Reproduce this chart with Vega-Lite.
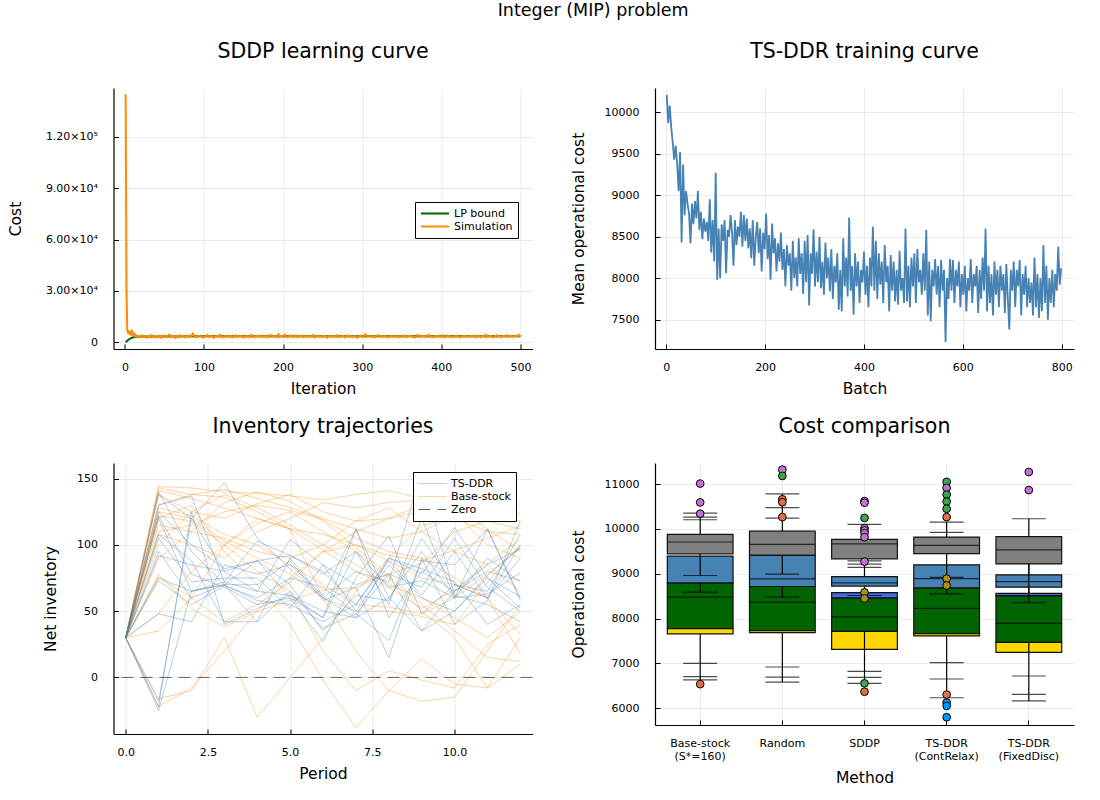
{
"$schema": "https://vega.github.io/schema/vega-lite/v6.json",
"background": "white",
"padding": {"left": 7.5, "top": 2, "right": 5, "bottom": 5},
"title": {"text": "Integer (MIP) problem", "fontSize": 17.5, "anchor": "middle", "offset": 22, "dx": 52},
"config": {
 "font": "DejaVu Sans",
 "view": {"stroke": null},
 "title": {"fontSize": 20.5, "fontWeight": "normal", "color": "#000", "offset": 26},
 "axis": {"domainColor": "#000", "domainWidth": 1.2, "tickColor": "#000", "tickWidth": 1, "tickSize": -5, "labelFontSize": 11, "labelColor": "#000", "titleFontSize": 15.5, "titleFontWeight": "normal", "titleColor": "#000", "gridColor": "#e6e6e6", "gridWidth": 0.8, "labelFlush": false},
 "axisX": {"labelPadding": 17, "titlePadding": 9, "labelAngle": 0},
 "axisY": {"labelPadding": 21, "titlePadding": 18},
 "legend": {"strokeColor": "#000", "fillColor": "#fff", "padding": 5, "symbolType": "stroke", "symbolSize": 784, "clipHeight": 13, "symbolStrokeWidth": 2, "labelOffset": 4, "rowPadding": 0, "labelFontSize": 11, "labelColor": "#000", "cornerRadius": 0}
},
"datasets": {
 "sddp": [
  {"s":"LP bound","i":1,"c":0},{"s":"LP bound","i":2,"c":450},{"s":"LP bound","i":3,"c":900},{"s":"LP bound","i":4,"c":1300},{"s":"LP bound","i":5,"c":1650},{"s":"LP bound","i":6,"c":1950},{"s":"LP bound","i":7,"c":2250},{"s":"LP bound","i":8,"c":2500},{"s":"LP bound","i":10,"c":2800},{"s":"LP bound","i":12,"c":3050},{"s":"LP bound","i":15,"c":3250},{"s":"LP bound","i":20,"c":3380},{"s":"LP bound","i":30,"c":3440},{"s":"LP bound","i":50,"c":3470},{"s":"LP bound","i":100,"c":3490},{"s":"LP bound","i":200,"c":3500},{"s":"LP bound","i":300,"c":3505},{"s":"LP bound","i":400,"c":3510},{"s":"LP bound","i":500,"c":3512},
  {"s":"Simulation","i":1,"c":145000},{"s":"Simulation","i":2,"c":32000},{"s":"Simulation","i":3,"c":7200},{"s":"Simulation","i":4,"c":5400},{"s":"Simulation","i":5,"c":6600},{"s":"Simulation","i":6,"c":4700},{"s":"Simulation","i":7,"c":5900},{"s":"Simulation","i":8,"c":4300},{"s":"Simulation","i":9,"c":7000},{"s":"Simulation","i":10,"c":4400},{"s":"Simulation","i":11,"c":5400},{"s":"Simulation","i":12,"c":3700},{"s":"Simulation","i":13,"c":4900},
  {"s":"Simulation","i":14,"c":3300},{"s":"Simulation","i":16,"c":3900},{"s":"Simulation","i":18,"c":2900},{"s":"Simulation","i":20,"c":3600},{"s":"Simulation","i":22,"c":4100},{"s":"Simulation","i":24,"c":3000},{"s":"Simulation","i":26,"c":3500},{"s":"Simulation","i":28,"c":2700},{"s":"Simulation","i":30,"c":3800},{"s":"Simulation","i":32,"c":3200},
  {"s":"Simulation","i":34,"c":4400},{"s":"Simulation","i":36,"c":3100},{"s":"Simulation","i":38,"c":2800},{"s":"Simulation","i":40,"c":3600},{"s":"Simulation","i":42,"c":3300},{"s":"Simulation","i":44,"c":3900},{"s":"Simulation","i":46,"c":2600},{"s":"Simulation","i":48,"c":3500},{"s":"Simulation","i":50,"c":4000},{"s":"Simulation","i":52,"c":3100},
  {"s":"Simulation","i":54,"c":3400},{"s":"Simulation","i":56,"c":4700},{"s":"Simulation","i":58,"c":2900},{"s":"Simulation","i":60,"c":3300},{"s":"Simulation","i":62,"c":3700},{"s":"Simulation","i":64,"c":2500},{"s":"Simulation","i":66,"c":3600},{"s":"Simulation","i":68,"c":3000},{"s":"Simulation","i":70,"c":4200},{"s":"Simulation","i":72,"c":3300},
  {"s":"Simulation","i":74,"c":3800},{"s":"Simulation","i":76,"c":2800},{"s":"Simulation","i":78,"c":3500},{"s":"Simulation","i":80,"c":4100},{"s":"Simulation","i":82,"c":3000},{"s":"Simulation","i":84,"c":3600},{"s":"Simulation","i":86,"c":5300},{"s":"Simulation","i":88,"c":3200},{"s":"Simulation","i":90,"c":2900},{"s":"Simulation","i":92,"c":3700},
  {"s":"Simulation","i":94,"c":3400},{"s":"Simulation","i":96,"c":4000},{"s":"Simulation","i":98,"c":2700},{"s":"Simulation","i":100,"c":3500},{"s":"Simulation","i":102,"c":3100},{"s":"Simulation","i":104,"c":4300},{"s":"Simulation","i":106,"c":3000},{"s":"Simulation","i":108,"c":3600},{"s":"Simulation","i":110,"c":3900},{"s":"Simulation","i":112,"c":2600},
  {"s":"Simulation","i":114,"c":3300},{"s":"Simulation","i":116,"c":3800},{"s":"Simulation","i":118,"c":3100},{"s":"Simulation","i":120,"c":4500},{"s":"Simulation","i":122,"c":3200},{"s":"Simulation","i":124,"c":2900},{"s":"Simulation","i":126,"c":3600},{"s":"Simulation","i":128,"c":3400},{"s":"Simulation","i":130,"c":4000},{"s":"Simulation","i":132,"c":3000},
  {"s":"Simulation","i":134,"c":3700},{"s":"Simulation","i":136,"c":2800},{"s":"Simulation","i":138,"c":3500},{"s":"Simulation","i":140,"c":4200},{"s":"Simulation","i":142,"c":3100},{"s":"Simulation","i":144,"c":3600},{"s":"Simulation","i":146,"c":3300},{"s":"Simulation","i":148,"c":3900},{"s":"Simulation","i":150,"c":2700},{"s":"Simulation","i":152,"c":3400},
  {"s":"Simulation","i":154,"c":3800},{"s":"Simulation","i":156,"c":3000},{"s":"Simulation","i":158,"c":3500},{"s":"Simulation","i":160,"c":4600},{"s":"Simulation","i":162,"c":3200},{"s":"Simulation","i":164,"c":2900},{"s":"Simulation","i":166,"c":3700},{"s":"Simulation","i":168,"c":3300},{"s":"Simulation","i":170,"c":4100},{"s":"Simulation","i":172,"c":3000},
  {"s":"Simulation","i":174,"c":3600},{"s":"Simulation","i":176,"c":3200},{"s":"Simulation","i":178,"c":3900},{"s":"Simulation","i":180,"c":2800},{"s":"Simulation","i":182,"c":3500},{"s":"Simulation","i":184,"c":4400},{"s":"Simulation","i":186,"c":3100},{"s":"Simulation","i":188,"c":3700},{"s":"Simulation","i":190,"c":3400},{"s":"Simulation","i":192,"c":3000},
  {"s":"Simulation","i":194,"c":4900},{"s":"Simulation","i":196,"c":3300},{"s":"Simulation","i":198,"c":3800},{"s":"Simulation","i":200,"c":3100},{"s":"Simulation","i":202,"c":4600},{"s":"Simulation","i":204,"c":3500},{"s":"Simulation","i":206,"c":2900},{"s":"Simulation","i":208,"c":3600},{"s":"Simulation","i":210,"c":4200},{"s":"Simulation","i":212,"c":3200},
  {"s":"Simulation","i":214,"c":3400},{"s":"Simulation","i":216,"c":3900},{"s":"Simulation","i":218,"c":3000},{"s":"Simulation","i":220,"c":3700},{"s":"Simulation","i":222,"c":3300},{"s":"Simulation","i":224,"c":4100},{"s":"Simulation","i":226,"c":2800},{"s":"Simulation","i":228,"c":3500},{"s":"Simulation","i":230,"c":3900},{"s":"Simulation","i":232,"c":3100},
  {"s":"Simulation","i":234,"c":3600},{"s":"Simulation","i":236,"c":3300},{"s":"Simulation","i":238,"c":4400},{"s":"Simulation","i":240,"c":2900},{"s":"Simulation","i":242,"c":3500},{"s":"Simulation","i":244,"c":3800},{"s":"Simulation","i":246,"c":3200},{"s":"Simulation","i":248,"c":3600},{"s":"Simulation","i":250,"c":3000},{"s":"Simulation","i":252,"c":4000},
  {"s":"Simulation","i":254,"c":3400},{"s":"Simulation","i":256,"c":2700},{"s":"Simulation","i":258,"c":3700},{"s":"Simulation","i":260,"c":3300},{"s":"Simulation","i":262,"c":3900},{"s":"Simulation","i":264,"c":3100},{"s":"Simulation","i":266,"c":3500},{"s":"Simulation","i":268,"c":4300},{"s":"Simulation","i":270,"c":3000},{"s":"Simulation","i":272,"c":3600},
  {"s":"Simulation","i":274,"c":3200},{"s":"Simulation","i":276,"c":3800},{"s":"Simulation","i":278,"c":2900},{"s":"Simulation","i":280,"c":3500},{"s":"Simulation","i":282,"c":4100},{"s":"Simulation","i":284,"c":3300},{"s":"Simulation","i":286,"c":3600},{"s":"Simulation","i":288,"c":3000},{"s":"Simulation","i":290,"c":3700},{"s":"Simulation","i":292,"c":3400},
  {"s":"Simulation","i":294,"c":2600},{"s":"Simulation","i":296,"c":3500},{"s":"Simulation","i":298,"c":3900},{"s":"Simulation","i":300,"c":3100},{"s":"Simulation","i":302,"c":3600},{"s":"Simulation","i":304,"c":4800},{"s":"Simulation","i":306,"c":3200},{"s":"Simulation","i":308,"c":3400},{"s":"Simulation","i":310,"c":3800},{"s":"Simulation","i":312,"c":3000},
  {"s":"Simulation","i":314,"c":3500},{"s":"Simulation","i":316,"c":2900},{"s":"Simulation","i":318,"c":3700},{"s":"Simulation","i":320,"c":4200},{"s":"Simulation","i":322,"c":3300},{"s":"Simulation","i":324,"c":3600},{"s":"Simulation","i":326,"c":3100},{"s":"Simulation","i":328,"c":3900},{"s":"Simulation","i":330,"c":3400},{"s":"Simulation","i":332,"c":2800},
  {"s":"Simulation","i":334,"c":3600},{"s":"Simulation","i":336,"c":3300},{"s":"Simulation","i":338,"c":4000},{"s":"Simulation","i":340,"c":3100},{"s":"Simulation","i":342,"c":3500},{"s":"Simulation","i":344,"c":3800},{"s":"Simulation","i":346,"c":2900},{"s":"Simulation","i":348,"c":3600},{"s":"Simulation","i":350,"c":3200},{"s":"Simulation","i":352,"c":4100},
  {"s":"Simulation","i":354,"c":3400},{"s":"Simulation","i":356,"c":3000},{"s":"Simulation","i":358,"c":3700},{"s":"Simulation","i":360,"c":3500},{"s":"Simulation","i":362,"c":3900},{"s":"Simulation","i":364,"c":3200},{"s":"Simulation","i":366,"c":2700},{"s":"Simulation","i":368,"c":3600},{"s":"Simulation","i":370,"c":4400},{"s":"Simulation","i":372,"c":3100},
  {"s":"Simulation","i":374,"c":3500},{"s":"Simulation","i":376,"c":3300},{"s":"Simulation","i":378,"c":3800},{"s":"Simulation","i":380,"c":3000},{"s":"Simulation","i":382,"c":3600},{"s":"Simulation","i":384,"c":4500},{"s":"Simulation","i":386,"c":3200},{"s":"Simulation","i":388,"c":3400},{"s":"Simulation","i":390,"c":2800},{"s":"Simulation","i":392,"c":3700},
  {"s":"Simulation","i":394,"c":3300},{"s":"Simulation","i":396,"c":3900},{"s":"Simulation","i":398,"c":3100},{"s":"Simulation","i":400,"c":3500},{"s":"Simulation","i":402,"c":4200},{"s":"Simulation","i":404,"c":2900},{"s":"Simulation","i":406,"c":3600},{"s":"Simulation","i":408,"c":3400},{"s":"Simulation","i":410,"c":3800},{"s":"Simulation","i":412,"c":3100},
  {"s":"Simulation","i":414,"c":3500},{"s":"Simulation","i":416,"c":3000},{"s":"Simulation","i":418,"c":3700},{"s":"Simulation","i":420,"c":4000},{"s":"Simulation","i":422,"c":3300},{"s":"Simulation","i":424,"c":2800},{"s":"Simulation","i":426,"c":3600},{"s":"Simulation","i":428,"c":3400},{"s":"Simulation","i":430,"c":3900},{"s":"Simulation","i":432,"c":3200},
  {"s":"Simulation","i":434,"c":3500},{"s":"Simulation","i":436,"c":3100},{"s":"Simulation","i":438,"c":3800},{"s":"Simulation","i":440,"c":3300},{"s":"Simulation","i":442,"c":4100},{"s":"Simulation","i":444,"c":2900},{"s":"Simulation","i":446,"c":3600},{"s":"Simulation","i":448,"c":3400},{"s":"Simulation","i":450,"c":3000},{"s":"Simulation","i":452,"c":3700},
  {"s":"Simulation","i":454,"c":3400},{"s":"Simulation","i":456,"c":4600},{"s":"Simulation","i":458,"c":3100},{"s":"Simulation","i":460,"c":3500},{"s":"Simulation","i":462,"c":3800},{"s":"Simulation","i":464,"c":3200},{"s":"Simulation","i":466,"c":2900},{"s":"Simulation","i":468,"c":3600},{"s":"Simulation","i":470,"c":4200},{"s":"Simulation","i":472,"c":3300},
  {"s":"Simulation","i":474,"c":3500},{"s":"Simulation","i":476,"c":3000},{"s":"Simulation","i":478,"c":3700},{"s":"Simulation","i":480,"c":3400},{"s":"Simulation","i":482,"c":4300},{"s":"Simulation","i":484,"c":3100},{"s":"Simulation","i":486,"c":3600},{"s":"Simulation","i":488,"c":3900},{"s":"Simulation","i":490,"c":3200},{"s":"Simulation","i":492,"c":3500},
  {"s":"Simulation","i":494,"c":3800},{"s":"Simulation","i":496,"c":3300},{"s":"Simulation","i":498,"c":4500},{"s":"Simulation","i":500,"c":3600}
 ],
 "ts": [
  {"b":1,"c":10210},{"b":4,"c":9870},{"b":7,"c":10080},{"b":10,"c":9820},{"b":13,"c":9640},{"b":16,"c":9430},{"b":19,"c":9600},{"b":22,"c":9380},{"b":25,"c":9050},{"b":28,"c":9520},
  {"b":31,"c":8430},{"b":34,"c":9370},{"b":37,"c":8760},{"b":40,"c":9050},{"b":43,"c":8900},{"b":46,"c":8780},{"b":49,"c":8420},{"b":52,"c":8900},{"b":55,"c":8650},{"b":58,"c":8930},
  {"b":61,"c":8720},{"b":64,"c":9050},{"b":67,"c":8580},{"b":70,"c":8800},{"b":73,"c":8470},{"b":76,"c":8720},{"b":79,"c":8560},{"b":82,"c":8680},{"b":85,"c":8450},{"b":88,"c":8950},
  {"b":91,"c":8310},{"b":94,"c":8700},{"b":97,"c":8200},{"b":100,"c":9270},{"b":103,"c":7980},{"b":106,"c":8600},{"b":109,"c":8000},{"b":112,"c":8650},{"b":115,"c":8450},{"b":118,"c":8700},
  {"b":121,"c":8060},{"b":124,"c":8580},{"b":127,"c":8500},{"b":130,"c":8760},{"b":133,"c":8560},{"b":136,"c":8150},{"b":139,"c":8700},{"b":142,"c":8400},{"b":145,"c":8620},{"b":148,"c":8500},
  {"b":151,"c":8800},{"b":154,"c":8380},{"b":157,"c":8760},{"b":160,"c":8450},{"b":163,"c":8720},{"b":166,"c":8360},{"b":169,"c":8600},{"b":172,"c":8240},{"b":175,"c":8700},{"b":178,"c":8150},
  {"b":181,"c":8500},{"b":184,"c":8680},{"b":187,"c":8300},{"b":190,"c":8600},{"b":193,"c":8080},{"b":196,"c":8550},{"b":199,"c":8350},{"b":202,"c":8780},{"b":205,"c":8230},{"b":208,"c":8520},
  {"b":211,"c":7980},{"b":214,"c":8660},{"b":217,"c":8300},{"b":220,"c":8480},{"b":223,"c":8080},{"b":226,"c":8420},{"b":229,"c":8200},{"b":232,"c":8550},{"b":235,"c":8100},{"b":238,"c":8350},
  {"b":241,"c":7900},{"b":244,"c":8400},{"b":247,"c":8150},{"b":250,"c":8300},{"b":253,"c":7850},{"b":256,"c":8450},{"b":259,"c":8000},{"b":262,"c":8250},{"b":265,"c":7900},{"b":268,"c":8480},
  {"b":271,"c":8050},{"b":274,"c":8300},{"b":277,"c":7810},{"b":280,"c":8450},{"b":283,"c":7950},{"b":286,"c":8520},{"b":289,"c":7670},{"b":292,"c":8300},{"b":295,"c":8050},{"b":298,"c":8590},
  {"b":301,"c":7900},{"b":304,"c":8320},{"b":307,"c":7950},{"b":310,"c":8500},{"b":313,"c":7880},{"b":316,"c":8200},{"b":319,"c":7800},{"b":322,"c":8430},{"b":325,"c":8000},{"b":328,"c":8250},
  {"b":331,"c":7840},{"b":334,"c":8350},{"b":337,"c":7750},{"b":340,"c":8150},{"b":343,"c":7950},{"b":346,"c":8300},{"b":349,"c":7620},{"b":352,"c":8100},{"b":355,"c":7600},{"b":358,"c":8480},
  {"b":361,"c":7900},{"b":364,"c":8250},{"b":367,"c":7780},{"b":370,"c":8730},{"b":373,"c":7850},{"b":376,"c":8150},{"b":379,"c":7560},{"b":382,"c":8300},{"b":385,"c":7900},{"b":388,"c":8200},
  {"b":391,"c":7700},{"b":394,"c":8100},{"b":397,"c":7950},{"b":400,"c":8320},{"b":403,"c":7800},{"b":406,"c":8150},{"b":409,"c":7650},{"b":412,"c":8250},{"b":415,"c":7900},{"b":418,"c":8620},
  {"b":421,"c":7850},{"b":424,"c":8450},{"b":427,"c":7750},{"b":430,"c":8300},{"b":433,"c":7920},{"b":436,"c":8200},{"b":439,"c":7700},{"b":442,"c":8400},{"b":445,"c":7950},{"b":448,"c":8150},
  {"b":451,"c":7600},{"b":454,"c":8280},{"b":457,"c":7850},{"b":460,"c":8200},{"b":463,"c":7720},{"b":466,"c":8100},{"b":469,"c":7680},{"b":472,"c":8330},{"b":475,"c":7850},{"b":478,"c":8000},
  {"b":481,"c":7700},{"b":484,"c":8600},{"b":487,"c":7720},{"b":490,"c":8150},{"b":493,"c":7650},{"b":496,"c":8250},{"b":499,"c":7900},{"b":502,"c":8300},{"b":505,"c":7700},{"b":508,"c":8350},
  {"b":511,"c":7950},{"b":514,"c":8100},{"b":517,"c":7800},{"b":520,"c":8300},{"b":523,"c":7850},{"b":526,"c":8580},{"b":529,"c":7550},{"b":532,"c":8200},{"b":535,"c":7480},{"b":538,"c":8100},
  {"b":541,"c":7900},{"b":544,"c":8230},{"b":547,"c":7800},{"b":550,"c":8150},{"b":553,"c":7650},{"b":556,"c":8220},{"b":559,"c":7850},{"b":562,"c":8100},{"b":565,"c":7230},{"b":568,"c":8000},
  {"b":571,"c":7750},{"b":574,"c":8230},{"b":577,"c":7850},{"b":580,"c":8220},{"b":583,"c":7700},{"b":586,"c":8100},{"b":589,"c":7900},{"b":592,"c":8200},{"b":595,"c":7650},{"b":598,"c":8050},
  {"b":601,"c":7800},{"b":604,"c":8150},{"b":607,"c":7600},{"b":610,"c":8000},{"b":613,"c":7850},{"b":616,"c":8230},{"b":619,"c":7700},{"b":622,"c":8050},{"b":625,"c":7900},{"b":628,"c":8150},
  {"b":631,"c":7580},{"b":634,"c":8100},{"b":637,"c":7750},{"b":640,"c":8250},{"b":643,"c":7850},{"b":646,"c":8600},{"b":649,"c":7600},{"b":652,"c":8150},{"b":655,"c":7700},{"b":658,"c":8050},
  {"b":661,"c":7550},{"b":664,"c":8200},{"b":667,"c":7800},{"b":670,"c":8100},{"b":673,"c":7650},{"b":676,"c":8150},{"b":679,"c":7850},{"b":682,"c":8050},{"b":685,"c":7580},{"b":688,"c":8170},
  {"b":691,"c":7750},{"b":694,"c":7380},{"b":697,"c":8100},{"b":700,"c":7850},{"b":703,"c":8200},{"b":706,"c":7650},{"b":709,"c":8100},{"b":712,"c":7900},{"b":715,"c":8220},{"b":718,"c":7550},
  {"b":721,"c":8050},{"b":724,"c":7800},{"b":727,"c":8150},{"b":730,"c":7650},{"b":733,"c":8000},{"b":736,"c":7700},{"b":739,"c":7950},{"b":742,"c":7550},{"b":745,"c":8250},{"b":748,"c":7650},
  {"b":751,"c":8050},{"b":754,"c":7520},{"b":757,"c":8000},{"b":760,"c":7600},{"b":763,"c":8400},{"b":766,"c":7700},{"b":769,"c":8150},{"b":772,"c":7500},{"b":775,"c":8000},{"b":778,"c":7700},
  {"b":781,"c":8100},{"b":784,"c":7650},{"b":787,"c":8050},{"b":790,"c":7850},{"b":793,"c":8380},{"b":796,"c":7920},{"b":799,"c":8120}
 ],
 "inv": [
  {"id":"B1","s":"Base-stock","p":0,"v":30},{"id":"B1","s":"Base-stock","p":1,"v":144},{"id":"B1","s":"Base-stock","p":2,"v":143},{"id":"B1","s":"Base-stock","p":3,"v":140},{"id":"B1","s":"Base-stock","p":4,"v":139},{"id":"B1","s":"Base-stock","p":5,"v":137},{"id":"B1","s":"Base-stock","p":6,"v":134},{"id":"B1","s":"Base-stock","p":7,"v":138},{"id":"B1","s":"Base-stock","p":8,"v":141},{"id":"B1","s":"Base-stock","p":9,"v":135},{"id":"B1","s":"Base-stock","p":10,"v":128},{"id":"B1","s":"Base-stock","p":11,"v":125},{"id":"B1","s":"Base-stock","p":12,"v":118},
  {"id":"B2","s":"Base-stock","p":0,"v":30},{"id":"B2","s":"Base-stock","p":1,"v":143},{"id":"B2","s":"Base-stock","p":2,"v":138},{"id":"B2","s":"Base-stock","p":3,"v":142},{"id":"B2","s":"Base-stock","p":4,"v":135},{"id":"B2","s":"Base-stock","p":5,"v":128},{"id":"B2","s":"Base-stock","p":6,"v":120},{"id":"B2","s":"Base-stock","p":7,"v":112},{"id":"B2","s":"Base-stock","p":8,"v":105},{"id":"B2","s":"Base-stock","p":9,"v":110},{"id":"B2","s":"Base-stock","p":10,"v":122},{"id":"B2","s":"Base-stock","p":11,"v":128},{"id":"B2","s":"Base-stock","p":12,"v":131},
  {"id":"B3","s":"Base-stock","p":0,"v":30},{"id":"B3","s":"Base-stock","p":1,"v":141},{"id":"B3","s":"Base-stock","p":2,"v":135},{"id":"B3","s":"Base-stock","p":3,"v":128},{"id":"B3","s":"Base-stock","p":4,"v":120},{"id":"B3","s":"Base-stock","p":5,"v":112},{"id":"B3","s":"Base-stock","p":6,"v":108},{"id":"B3","s":"Base-stock","p":7,"v":100},{"id":"B3","s":"Base-stock","p":8,"v":92},{"id":"B3","s":"Base-stock","p":9,"v":88},{"id":"B3","s":"Base-stock","p":10,"v":96},{"id":"B3","s":"Base-stock","p":11,"v":105},{"id":"B3","s":"Base-stock","p":12,"v":114},
  {"id":"B4","s":"Base-stock","p":0,"v":30},{"id":"B4","s":"Base-stock","p":1,"v":138},{"id":"B4","s":"Base-stock","p":2,"v":125},{"id":"B4","s":"Base-stock","p":3,"v":120},{"id":"B4","s":"Base-stock","p":4,"v":131},{"id":"B4","s":"Base-stock","p":5,"v":138},{"id":"B4","s":"Base-stock","p":6,"v":125},{"id":"B4","s":"Base-stock","p":7,"v":118},{"id":"B4","s":"Base-stock","p":8,"v":120},{"id":"B4","s":"Base-stock","p":9,"v":130},{"id":"B4","s":"Base-stock","p":10,"v":125},{"id":"B4","s":"Base-stock","p":11,"v":118},{"id":"B4","s":"Base-stock","p":12,"v":112},
  {"id":"B5","s":"Base-stock","p":0,"v":30},{"id":"B5","s":"Base-stock","p":1,"v":128},{"id":"B5","s":"Base-stock","p":2,"v":122},{"id":"B5","s":"Base-stock","p":3,"v":108},{"id":"B5","s":"Base-stock","p":4,"v":100},{"id":"B5","s":"Base-stock","p":5,"v":85},{"id":"B5","s":"Base-stock","p":6,"v":70},{"id":"B5","s":"Base-stock","p":7,"v":55},{"id":"B5","s":"Base-stock","p":8,"v":53},{"id":"B5","s":"Base-stock","p":9,"v":48},{"id":"B5","s":"Base-stock","p":10,"v":60},{"id":"B5","s":"Base-stock","p":11,"v":78},{"id":"B5","s":"Base-stock","p":12,"v":98},
  {"id":"B6","s":"Base-stock","p":0,"v":30},{"id":"B6","s":"Base-stock","p":1,"v":125},{"id":"B6","s":"Base-stock","p":2,"v":120},{"id":"B6","s":"Base-stock","p":3,"v":103},{"id":"B6","s":"Base-stock","p":4,"v":90},{"id":"B6","s":"Base-stock","p":5,"v":78},{"id":"B6","s":"Base-stock","p":6,"v":60},{"id":"B6","s":"Base-stock","p":7,"v":50},{"id":"B6","s":"Base-stock","p":8,"v":50},{"id":"B6","s":"Base-stock","p":9,"v":46},{"id":"B6","s":"Base-stock","p":10,"v":40},{"id":"B6","s":"Base-stock","p":11,"v":72},{"id":"B6","s":"Base-stock","p":12,"v":100},
  {"id":"B7","s":"Base-stock","p":0,"v":30},{"id":"B7","s":"Base-stock","p":1,"v":122},{"id":"B7","s":"Base-stock","p":2,"v":118},{"id":"B7","s":"Base-stock","p":3,"v":100},{"id":"B7","s":"Base-stock","p":4,"v":80},{"id":"B7","s":"Base-stock","p":5,"v":65},{"id":"B7","s":"Base-stock","p":6,"v":20},{"id":"B7","s":"Base-stock","p":7,"v":-10},{"id":"B7","s":"Base-stock","p":8,"v":5},{"id":"B7","s":"Base-stock","p":9,"v":-2},{"id":"B7","s":"Base-stock","p":10,"v":-8},{"id":"B7","s":"Base-stock","p":11,"v":25},{"id":"B7","s":"Base-stock","p":12,"v":40},
  {"id":"B8","s":"Base-stock","p":0,"v":30},{"id":"B8","s":"Base-stock","p":1,"v":110},{"id":"B8","s":"Base-stock","p":2,"v":115},{"id":"B8","s":"Base-stock","p":3,"v":125},{"id":"B8","s":"Base-stock","p":4,"v":130},{"id":"B8","s":"Base-stock","p":5,"v":126},{"id":"B8","s":"Base-stock","p":6,"v":119},{"id":"B8","s":"Base-stock","p":7,"v":105},{"id":"B8","s":"Base-stock","p":8,"v":95},{"id":"B8","s":"Base-stock","p":9,"v":90},{"id":"B8","s":"Base-stock","p":10,"v":75},{"id":"B8","s":"Base-stock","p":11,"v":60},{"id":"B8","s":"Base-stock","p":12,"v":32},
  {"id":"B9","s":"Base-stock","p":0,"v":30},{"id":"B9","s":"Base-stock","p":1,"v":108},{"id":"B9","s":"Base-stock","p":2,"v":100},{"id":"B9","s":"Base-stock","p":3,"v":90},{"id":"B9","s":"Base-stock","p":4,"v":110},{"id":"B9","s":"Base-stock","p":5,"v":120},{"id":"B9","s":"Base-stock","p":6,"v":132},{"id":"B9","s":"Base-stock","p":7,"v":128},{"id":"B9","s":"Base-stock","p":8,"v":132},{"id":"B9","s":"Base-stock","p":9,"v":134},{"id":"B9","s":"Base-stock","p":10,"v":124},{"id":"B9","s":"Base-stock","p":11,"v":100},{"id":"B9","s":"Base-stock","p":12,"v":90},
  {"id":"B10","s":"Base-stock","p":0,"v":30},{"id":"B10","s":"Base-stock","p":1,"v":78},{"id":"B10","s":"Base-stock","p":2,"v":52},{"id":"B10","s":"Base-stock","p":3,"v":38},{"id":"B10","s":"Base-stock","p":4,"v":50},{"id":"B10","s":"Base-stock","p":5,"v":58},{"id":"B10","s":"Base-stock","p":6,"v":66},{"id":"B10","s":"Base-stock","p":7,"v":68},{"id":"B10","s":"Base-stock","p":8,"v":78},{"id":"B10","s":"Base-stock","p":9,"v":86},{"id":"B10","s":"Base-stock","p":10,"v":110},{"id":"B10","s":"Base-stock","p":11,"v":118},{"id":"B10","s":"Base-stock","p":12,"v":124},
  {"id":"B11","s":"Base-stock","p":0,"v":30},{"id":"B11","s":"Base-stock","p":1,"v":76},{"id":"B11","s":"Base-stock","p":2,"v":60},{"id":"B11","s":"Base-stock","p":3,"v":42},{"id":"B11","s":"Base-stock","p":4,"v":55},{"id":"B11","s":"Base-stock","p":5,"v":72},{"id":"B11","s":"Base-stock","p":6,"v":95},{"id":"B11","s":"Base-stock","p":7,"v":110},{"id":"B11","s":"Base-stock","p":8,"v":120},{"id":"B11","s":"Base-stock","p":9,"v":125},{"id":"B11","s":"Base-stock","p":10,"v":130},{"id":"B11","s":"Base-stock","p":11,"v":112},{"id":"B11","s":"Base-stock","p":12,"v":95},
  {"id":"B12","s":"Base-stock","p":0,"v":30},{"id":"B12","s":"Base-stock","p":1,"v":48},{"id":"B12","s":"Base-stock","p":2,"v":80},{"id":"B12","s":"Base-stock","p":3,"v":100},{"id":"B12","s":"Base-stock","p":4,"v":116},{"id":"B12","s":"Base-stock","p":5,"v":125},{"id":"B12","s":"Base-stock","p":6,"v":110},{"id":"B12","s":"Base-stock","p":7,"v":95},{"id":"B12","s":"Base-stock","p":8,"v":75},{"id":"B12","s":"Base-stock","p":9,"v":50},{"id":"B12","s":"Base-stock","p":10,"v":30},{"id":"B12","s":"Base-stock","p":11,"v":-8},{"id":"B12","s":"Base-stock","p":12,"v":10},
  {"id":"B13","s":"Base-stock","p":0,"v":30},{"id":"B13","s":"Base-stock","p":1,"v":35},{"id":"B13","s":"Base-stock","p":2,"v":60},{"id":"B13","s":"Base-stock","p":3,"v":100},{"id":"B13","s":"Base-stock","p":4,"v":120},{"id":"B13","s":"Base-stock","p":5,"v":112},{"id":"B13","s":"Base-stock","p":6,"v":60},{"id":"B13","s":"Base-stock","p":7,"v":20},{"id":"B13","s":"Base-stock","p":8,"v":-10},{"id":"B13","s":"Base-stock","p":9,"v":-18},{"id":"B13","s":"Base-stock","p":10,"v":-15},{"id":"B13","s":"Base-stock","p":11,"v":20},{"id":"B13","s":"Base-stock","p":12,"v":55},
  {"id":"B14","s":"Base-stock","p":0,"v":30},{"id":"B14","s":"Base-stock","p":1,"v":-16},{"id":"B14","s":"Base-stock","p":2,"v":-10},{"id":"B14","s":"Base-stock","p":3,"v":30},{"id":"B14","s":"Base-stock","p":4,"v":-30},{"id":"B14","s":"Base-stock","p":5,"v":0},{"id":"B14","s":"Base-stock","p":6,"v":30},{"id":"B14","s":"Base-stock","p":7,"v":65},{"id":"B14","s":"Base-stock","p":8,"v":90},{"id":"B14","s":"Base-stock","p":9,"v":115},{"id":"B14","s":"Base-stock","p":10,"v":120},{"id":"B14","s":"Base-stock","p":11,"v":110},{"id":"B14","s":"Base-stock","p":12,"v":108},
  {"id":"B15","s":"Base-stock","p":0,"v":30},{"id":"B15","s":"Base-stock","p":1,"v":-22},{"id":"B15","s":"Base-stock","p":2,"v":-8},{"id":"B15","s":"Base-stock","p":3,"v":20},{"id":"B15","s":"Base-stock","p":4,"v":50},{"id":"B15","s":"Base-stock","p":5,"v":75},{"id":"B15","s":"Base-stock","p":6,"v":95},{"id":"B15","s":"Base-stock","p":7,"v":100},{"id":"B15","s":"Base-stock","p":8,"v":88},{"id":"B15","s":"Base-stock","p":9,"v":75},{"id":"B15","s":"Base-stock","p":10,"v":70},{"id":"B15","s":"Base-stock","p":11,"v":60},{"id":"B15","s":"Base-stock","p":12,"v":18},
  {"id":"B16","s":"Base-stock","p":0,"v":30},{"id":"B16","s":"Base-stock","p":1,"v":100},{"id":"B16","s":"Base-stock","p":2,"v":125},{"id":"B16","s":"Base-stock","p":3,"v":138},{"id":"B16","s":"Base-stock","p":4,"v":128},{"id":"B16","s":"Base-stock","p":5,"v":115},{"id":"B16","s":"Base-stock","p":6,"v":100},{"id":"B16","s":"Base-stock","p":7,"v":85},{"id":"B16","s":"Base-stock","p":8,"v":70},{"id":"B16","s":"Base-stock","p":9,"v":60},{"id":"B16","s":"Base-stock","p":10,"v":45},{"id":"B16","s":"Base-stock","p":11,"v":30},{"id":"B16","s":"Base-stock","p":12,"v":50},
  {"id":"B17","s":"Base-stock","p":0,"v":30},{"id":"B17","s":"Base-stock","p":1,"v":120},{"id":"B17","s":"Base-stock","p":2,"v":130},{"id":"B17","s":"Base-stock","p":3,"v":95},{"id":"B17","s":"Base-stock","p":4,"v":70},{"id":"B17","s":"Base-stock","p":5,"v":40},{"id":"B17","s":"Base-stock","p":6,"v":-2},{"id":"B17","s":"Base-stock","p":7,"v":-38},{"id":"B17","s":"Base-stock","p":8,"v":-10},{"id":"B17","s":"Base-stock","p":9,"v":14},{"id":"B17","s":"Base-stock","p":10,"v":-5},{"id":"B17","s":"Base-stock","p":11,"v":-8},{"id":"B17","s":"Base-stock","p":12,"v":30},
  {"id":"B18","s":"Base-stock","p":0,"v":30},{"id":"B18","s":"Base-stock","p":1,"v":115},{"id":"B18","s":"Base-stock","p":2,"v":110},{"id":"B18","s":"Base-stock","p":3,"v":105},{"id":"B18","s":"Base-stock","p":4,"v":95},{"id":"B18","s":"Base-stock","p":5,"v":90},{"id":"B18","s":"Base-stock","p":6,"v":100},{"id":"B18","s":"Base-stock","p":7,"v":118},{"id":"B18","s":"Base-stock","p":8,"v":128},{"id":"B18","s":"Base-stock","p":9,"v":110},{"id":"B18","s":"Base-stock","p":10,"v":95},{"id":"B18","s":"Base-stock","p":11,"v":85},{"id":"B18","s":"Base-stock","p":12,"v":65},
  {"id":"B19","s":"Base-stock","p":0,"v":30},{"id":"B19","s":"Base-stock","p":1,"v":130},{"id":"B19","s":"Base-stock","p":2,"v":138},{"id":"B19","s":"Base-stock","p":3,"v":136},{"id":"B19","s":"Base-stock","p":4,"v":125},{"id":"B19","s":"Base-stock","p":5,"v":112},{"id":"B19","s":"Base-stock","p":6,"v":96},{"id":"B19","s":"Base-stock","p":7,"v":80},{"id":"B19","s":"Base-stock","p":8,"v":68},{"id":"B19","s":"Base-stock","p":9,"v":52},{"id":"B19","s":"Base-stock","p":10,"v":66},{"id":"B19","s":"Base-stock","p":11,"v":86},{"id":"B19","s":"Base-stock","p":12,"v":104},
  {"id":"B20","s":"Base-stock","p":0,"v":30},{"id":"B20","s":"Base-stock","p":1,"v":90},{"id":"B20","s":"Base-stock","p":2,"v":110},{"id":"B20","s":"Base-stock","p":3,"v":132},{"id":"B20","s":"Base-stock","p":4,"v":140},{"id":"B20","s":"Base-stock","p":5,"v":133},{"id":"B20","s":"Base-stock","p":6,"v":118},{"id":"B20","s":"Base-stock","p":7,"v":98},{"id":"B20","s":"Base-stock","p":8,"v":77},{"id":"B20","s":"Base-stock","p":9,"v":55},{"id":"B20","s":"Base-stock","p":10,"v":35},{"id":"B20","s":"Base-stock","p":11,"v":15},{"id":"B20","s":"Base-stock","p":12,"v":12},
  {"id":"T1","s":"TS-DDR","p":0,"v":30},{"id":"T1","s":"TS-DDR","p":1,"v":140},{"id":"T1","s":"TS-DDR","p":2,"v":95},{"id":"T1","s":"TS-DDR","p":3,"v":70},{"id":"T1","s":"TS-DDR","p":4,"v":88},{"id":"T1","s":"TS-DDR","p":5,"v":92},{"id":"T1","s":"TS-DDR","p":6,"v":78},{"id":"T1","s":"TS-DDR","p":7,"v":95},{"id":"T1","s":"TS-DDR","p":8,"v":55},{"id":"T1","s":"TS-DDR","p":9,"v":120},{"id":"T1","s":"TS-DDR","p":10,"v":60},{"id":"T1","s":"TS-DDR","p":11,"v":112},{"id":"T1","s":"TS-DDR","p":12,"v":58},
  {"id":"T2","s":"TS-DDR","p":0,"v":30},{"id":"T2","s":"TS-DDR","p":1,"v":138},{"id":"T2","s":"TS-DDR","p":2,"v":120},{"id":"T2","s":"TS-DDR","p":3,"v":147},{"id":"T2","s":"TS-DDR","p":4,"v":105},{"id":"T2","s":"TS-DDR","p":5,"v":82},{"id":"T2","s":"TS-DDR","p":6,"v":60},{"id":"T2","s":"TS-DDR","p":7,"v":45},{"id":"T2","s":"TS-DDR","p":8,"v":90},{"id":"T2","s":"TS-DDR","p":9,"v":78},{"id":"T2","s":"TS-DDR","p":10,"v":113},{"id":"T2","s":"TS-DDR","p":11,"v":75},{"id":"T2","s":"TS-DDR","p":12,"v":52},
  {"id":"T3","s":"TS-DDR","p":0,"v":30},{"id":"T3","s":"TS-DDR","p":1,"v":130},{"id":"T3","s":"TS-DDR","p":2,"v":137},{"id":"T3","s":"TS-DDR","p":3,"v":72},{"id":"T3","s":"TS-DDR","p":4,"v":65},{"id":"T3","s":"TS-DDR","p":5,"v":104},{"id":"T3","s":"TS-DDR","p":6,"v":85},{"id":"T3","s":"TS-DDR","p":7,"v":70},{"id":"T3","s":"TS-DDR","p":8,"v":78},{"id":"T3","s":"TS-DDR","p":9,"v":35},{"id":"T3","s":"TS-DDR","p":10,"v":65},{"id":"T3","s":"TS-DDR","p":11,"v":85},{"id":"T3","s":"TS-DDR","p":12,"v":97},
  {"id":"T4","s":"TS-DDR","p":0,"v":30},{"id":"T4","s":"TS-DDR","p":1,"v":125},{"id":"T4","s":"TS-DDR","p":2,"v":100},{"id":"T4","s":"TS-DDR","p":3,"v":82},{"id":"T4","s":"TS-DDR","p":4,"v":88},{"id":"T4","s":"TS-DDR","p":5,"v":60},{"id":"T4","s":"TS-DDR","p":6,"v":45},{"id":"T4","s":"TS-DDR","p":7,"v":112},{"id":"T4","s":"TS-DDR","p":8,"v":60},{"id":"T4","s":"TS-DDR","p":9,"v":95},{"id":"T4","s":"TS-DDR","p":10,"v":60},{"id":"T4","s":"TS-DDR","p":11,"v":90},{"id":"T4","s":"TS-DDR","p":12,"v":72},
  {"id":"T5","s":"TS-DDR","p":0,"v":30},{"id":"T5","s":"TS-DDR","p":1,"v":122},{"id":"T5","s":"TS-DDR","p":2,"v":78},{"id":"T5","s":"TS-DDR","p":3,"v":68},{"id":"T5","s":"TS-DDR","p":4,"v":55},{"id":"T5","s":"TS-DDR","p":5,"v":60},{"id":"T5","s":"TS-DDR","p":6,"v":27},{"id":"T5","s":"TS-DDR","p":7,"v":75},{"id":"T5","s":"TS-DDR","p":8,"v":107},{"id":"T5","s":"TS-DDR","p":9,"v":48},{"id":"T5","s":"TS-DDR","p":10,"v":70},{"id":"T5","s":"TS-DDR","p":11,"v":65},{"id":"T5","s":"TS-DDR","p":12,"v":108},
  {"id":"T6","s":"TS-DDR","p":0,"v":30},{"id":"T6","s":"TS-DDR","p":1,"v":120},{"id":"T6","s":"TS-DDR","p":2,"v":65},{"id":"T6","s":"TS-DDR","p":3,"v":70},{"id":"T6","s":"TS-DDR","p":4,"v":42},{"id":"T6","s":"TS-DDR","p":5,"v":90},{"id":"T6","s":"TS-DDR","p":6,"v":60},{"id":"T6","s":"TS-DDR","p":7,"v":80},{"id":"T6","s":"TS-DDR","p":8,"v":72},{"id":"T6","s":"TS-DDR","p":9,"v":155},{"id":"T6","s":"TS-DDR","p":10,"v":62},{"id":"T6","s":"TS-DDR","p":11,"v":55},{"id":"T6","s":"TS-DDR","p":12,"v":42},
  {"id":"T7","s":"TS-DDR","p":0,"v":30},{"id":"T7","s":"TS-DDR","p":1,"v":108},{"id":"T7","s":"TS-DDR","p":2,"v":88},{"id":"T7","s":"TS-DDR","p":3,"v":42},{"id":"T7","s":"TS-DDR","p":4,"v":42},{"id":"T7","s":"TS-DDR","p":5,"v":65},{"id":"T7","s":"TS-DDR","p":6,"v":37},{"id":"T7","s":"TS-DDR","p":7,"v":48},{"id":"T7","s":"TS-DDR","p":8,"v":28},{"id":"T7","s":"TS-DDR","p":9,"v":88},{"id":"T7","s":"TS-DDR","p":10,"v":85},{"id":"T7","s":"TS-DDR","p":11,"v":112},{"id":"T7","s":"TS-DDR","p":12,"v":60},
  {"id":"T8","s":"TS-DDR","p":0,"v":30},{"id":"T8","s":"TS-DDR","p":1,"v":105},{"id":"T8","s":"TS-DDR","p":2,"v":72},{"id":"T8","s":"TS-DDR","p":3,"v":75},{"id":"T8","s":"TS-DDR","p":4,"v":75},{"id":"T8","s":"TS-DDR","p":5,"v":52},{"id":"T8","s":"TS-DDR","p":6,"v":85},{"id":"T8","s":"TS-DDR","p":7,"v":50},{"id":"T8","s":"TS-DDR","p":8,"v":85},{"id":"T8","s":"TS-DDR","p":9,"v":60},{"id":"T8","s":"TS-DDR","p":10,"v":50},{"id":"T8","s":"TS-DDR","p":11,"v":77},{"id":"T8","s":"TS-DDR","p":12,"v":98},
  {"id":"T9","s":"TS-DDR","p":0,"v":30},{"id":"T9","s":"TS-DDR","p":1,"v":95},{"id":"T9","s":"TS-DDR","p":2,"v":60},{"id":"T9","s":"TS-DDR","p":3,"v":70},{"id":"T9","s":"TS-DDR","p":4,"v":70},{"id":"T9","s":"TS-DDR","p":5,"v":88},{"id":"T9","s":"TS-DDR","p":6,"v":58},{"id":"T9","s":"TS-DDR","p":7,"v":68},{"id":"T9","s":"TS-DDR","p":8,"v":15},{"id":"T9","s":"TS-DDR","p":9,"v":90},{"id":"T9","s":"TS-DDR","p":10,"v":40},{"id":"T9","s":"TS-DDR","p":11,"v":58},{"id":"T9","s":"TS-DDR","p":12,"v":118},
  {"id":"T10","s":"TS-DDR","p":0,"v":30},{"id":"T10","s":"TS-DDR","p":1,"v":92},{"id":"T10","s":"TS-DDR","p":2,"v":85},{"id":"T10","s":"TS-DDR","p":3,"v":80},{"id":"T10","s":"TS-DDR","p":4,"v":65},{"id":"T10","s":"TS-DDR","p":5,"v":62},{"id":"T10","s":"TS-DDR","p":6,"v":45},{"id":"T10","s":"TS-DDR","p":7,"v":95},{"id":"T10","s":"TS-DDR","p":8,"v":68},{"id":"T10","s":"TS-DDR","p":9,"v":73},{"id":"T10","s":"TS-DDR","p":10,"v":60},{"id":"T10","s":"TS-DDR","p":11,"v":63},{"id":"T10","s":"TS-DDR","p":12,"v":79},
  {"id":"T11","s":"TS-DDR","p":0,"v":30},{"id":"T11","s":"TS-DDR","p":1,"v":75},{"id":"T11","s":"TS-DDR","p":2,"v":65},{"id":"T11","s":"TS-DDR","p":3,"v":70},{"id":"T11","s":"TS-DDR","p":4,"v":58},{"id":"T11","s":"TS-DDR","p":5,"v":55},{"id":"T11","s":"TS-DDR","p":6,"v":42},{"id":"T11","s":"TS-DDR","p":7,"v":55},{"id":"T11","s":"TS-DDR","p":8,"v":90},{"id":"T11","s":"TS-DDR","p":9,"v":82},{"id":"T11","s":"TS-DDR","p":10,"v":72},{"id":"T11","s":"TS-DDR","p":11,"v":40},{"id":"T11","s":"TS-DDR","p":12,"v":55},
  {"id":"T12","s":"TS-DDR","p":0,"v":30},{"id":"T12","s":"TS-DDR","p":1,"v":73},{"id":"T12","s":"TS-DDR","p":2,"v":55},{"id":"T12","s":"TS-DDR","p":3,"v":69},{"id":"T12","s":"TS-DDR","p":4,"v":60},{"id":"T12","s":"TS-DDR","p":5,"v":75},{"id":"T12","s":"TS-DDR","p":6,"v":68},{"id":"T12","s":"TS-DDR","p":7,"v":48},{"id":"T12","s":"TS-DDR","p":8,"v":78},{"id":"T12","s":"TS-DDR","p":9,"v":68},{"id":"T12","s":"TS-DDR","p":10,"v":105},{"id":"T12","s":"TS-DDR","p":11,"v":68},{"id":"T12","s":"TS-DDR","p":12,"v":50},
  {"id":"T13","s":"TS-DDR","p":0,"v":30},{"id":"T13","s":"TS-DDR","p":1,"v":48},{"id":"T13","s":"TS-DDR","p":2,"v":42},{"id":"T13","s":"TS-DDR","p":3,"v":85},{"id":"T13","s":"TS-DDR","p":4,"v":78},{"id":"T13","s":"TS-DDR","p":5,"v":85},{"id":"T13","s":"TS-DDR","p":6,"v":62},{"id":"T13","s":"TS-DDR","p":7,"v":112},{"id":"T13","s":"TS-DDR","p":8,"v":45},{"id":"T13","s":"TS-DDR","p":9,"v":80},{"id":"T13","s":"TS-DDR","p":10,"v":65},{"id":"T13","s":"TS-DDR","p":11,"v":80},{"id":"T13","s":"TS-DDR","p":12,"v":73},
  {"id":"T14","s":"TS-DDR","p":0,"v":30},{"id":"T14","s":"TS-DDR","p":1,"v":-18},{"id":"T14","s":"TS-DDR","p":2,"v":120},{"id":"T14","s":"TS-DDR","p":3,"v":80},{"id":"T14","s":"TS-DDR","p":4,"v":88},{"id":"T14","s":"TS-DDR","p":5,"v":70},{"id":"T14","s":"TS-DDR","p":6,"v":35},{"id":"T14","s":"TS-DDR","p":7,"v":62},{"id":"T14","s":"TS-DDR","p":8,"v":58},{"id":"T14","s":"TS-DDR","p":9,"v":105},{"id":"T14","s":"TS-DDR","p":10,"v":70},{"id":"T14","s":"TS-DDR","p":11,"v":60},{"id":"T14","s":"TS-DDR","p":12,"v":90},
  {"id":"T15","s":"TS-DDR","p":0,"v":30},{"id":"T15","s":"TS-DDR","p":1,"v":-22},{"id":"T15","s":"TS-DDR","p":2,"v":125},{"id":"T15","s":"TS-DDR","p":3,"v":40},{"id":"T15","s":"TS-DDR","p":4,"v":52},{"id":"T15","s":"TS-DDR","p":5,"v":62},{"id":"T15","s":"TS-DDR","p":6,"v":50},{"id":"T15","s":"TS-DDR","p":7,"v":45},{"id":"T15","s":"TS-DDR","p":8,"v":60},{"id":"T15","s":"TS-DDR","p":9,"v":35},{"id":"T15","s":"TS-DDR","p":10,"v":50},{"id":"T15","s":"TS-DDR","p":11,"v":75},{"id":"T15","s":"TS-DDR","p":12,"v":61},
  {"id":"T16","s":"TS-DDR","p":0,"v":30},{"id":"T16","s":"TS-DDR","p":1,"v":-25},{"id":"T16","s":"TS-DDR","p":2,"v":65},{"id":"T16","s":"TS-DDR","p":3,"v":72},{"id":"T16","s":"TS-DDR","p":4,"v":103},{"id":"T16","s":"TS-DDR","p":5,"v":92},{"id":"T16","s":"TS-DDR","p":6,"v":80},{"id":"T16","s":"TS-DDR","p":7,"v":55},{"id":"T16","s":"TS-DDR","p":8,"v":88},{"id":"T16","s":"TS-DDR","p":9,"v":62},{"id":"T16","s":"TS-DDR","p":10,"v":95},{"id":"T16","s":"TS-DDR","p":11,"v":60},{"id":"T16","s":"TS-DDR","p":12,"v":100}
 ],
 "zero": [{"s":"Zero","v":0}],
 "whisk": [
  {"m":"Base-stock|(S*=160)","lo":6632,"hi":10353},
  {"m":"Random","lo":6585,"hi":10780},
  {"m":"SDDP","lo":6556,"hi":10100},
  {"m":"TS-DDR|(ContRelax)","lo":6236,"hi":10152},
  {"m":"TS-DDR|(FixedDisc)","lo":6165,"hi":10226}
 ],
 "box": [
  {"m":"Base-stock|(S*=160)","k":"gray","lo":9445,"hi":9877},{"m":"Base-stock|(S*=160)","k":"steelblue","lo":8790,"hi":9393},{"m":"Base-stock|(S*=160)","k":"green","lo":7778,"hi":8790},{"m":"Base-stock|(S*=160)","k":"gold","lo":7659,"hi":7778},
  {"m":"Random","k":"gray","lo":9408,"hi":9950},{"m":"Random","k":"steelblue","lo":8716,"hi":9408},{"m":"Random","k":"green","lo":7730,"hi":8716},{"m":"Random","k":"gold","lo":7689,"hi":7730},
  {"m":"SDDP","k":"gray","lo":9333,"hi":9765},{"m":"SDDP","k":"steelblue","lo":8725,"hi":8938},{"m":"SDDP","k":"royalblue","lo":8455,"hi":8577},{"m":"SDDP","k":"green","lo":7717,"hi":8455},{"m":"SDDP","k":"gold","lo":7315,"hi":7717},
  {"m":"TS-DDR|(ContRelax)","k":"gray","lo":9448,"hi":9817},{"m":"TS-DDR|(ContRelax)","k":"steelblue","lo":8678,"hi":9199},{"m":"TS-DDR|(ContRelax)","k":"green","lo":7665,"hi":8678},{"m":"TS-DDR|(ContRelax)","k":"gold","lo":7613,"hi":7665},
  {"m":"TS-DDR|(FixedDisc)","k":"gray","lo":9218,"hi":9828},{"m":"TS-DDR|(FixedDisc)","k":"steelblue","lo":8700,"hi":8975},{"m":"TS-DDR|(FixedDisc)","k":"royalblue","lo":8505,"hi":8562},{"m":"TS-DDR|(FixedDisc)","k":"green","lo":7468,"hi":8505},{"m":"TS-DDR|(FixedDisc)","k":"gold","lo":7245,"hi":7468}
 ],
 "seg": [
  {"m":"Base-stock|(S*=160)","lo":8961,"hi":9393},{"m":"Base-stock|(S*=160)","lo":8589,"hi":8790},
  {"m":"Random","lo":8991,"hi":9408},{"m":"Random","lo":8478,"hi":8716},
  {"m":"SDDP","lo":8515,"hi":8577},{"m":"SDDP","lo":7315,"hi":7717},
  {"m":"TS-DDR|(ContRelax)","lo":8919,"hi":9199},{"m":"TS-DDR|(ContRelax)","lo":8551,"hi":8678},
  {"m":"TS-DDR|(FixedDisc)","lo":8356,"hi":9218},{"m":"TS-DDR|(FixedDisc)","lo":7245,"hi":7468}
 ],
 "cap": [
  {"m":"Base-stock|(S*=160)","v":10353},{"m":"Base-stock|(S*=160)","v":10263},{"m":"Base-stock|(S*=160)","v":10204},{"m":"Base-stock|(S*=160)","v":8961},{"m":"Base-stock|(S*=160)","v":8589},{"m":"Base-stock|(S*=160)","v":7004},{"m":"Base-stock|(S*=160)","v":6707},{"m":"Base-stock|(S*=160)","v":6632},
  {"m":"Random","v":10780},{"m":"Random","v":10475},{"m":"Random","v":10241},{"m":"Random","v":8991},{"m":"Random","v":8478},{"m":"Random","v":6921},{"m":"Random","v":6694},{"m":"Random","v":6585},
  {"m":"SDDP","v":10100},{"m":"SDDP","v":9285},{"m":"SDDP","v":9214},{"m":"SDDP","v":9143},{"m":"SDDP","v":8515},{"m":"SDDP","v":6824},{"m":"SDDP","v":6690},{"m":"SDDP","v":6556},
  {"m":"TS-DDR|(ContRelax)","v":10152},{"m":"TS-DDR|(ContRelax)","v":9924},{"m":"TS-DDR|(ContRelax)","v":8919},{"m":"TS-DDR|(ContRelax)","v":8551},{"m":"TS-DDR|(ContRelax)","v":7017},{"m":"TS-DDR|(ContRelax)","v":6653},{"m":"TS-DDR|(ContRelax)","v":6236},
  {"m":"TS-DDR|(FixedDisc)","v":10226},{"m":"TS-DDR|(FixedDisc)","v":8356},{"m":"TS-DDR|(FixedDisc)","v":6720},{"m":"TS-DDR|(FixedDisc)","v":6311},{"m":"TS-DDR|(FixedDisc)","v":6165}
 ],
 "med": [
  {"m":"Base-stock|(S*=160)","v":9708},{"m":"Base-stock|(S*=160)","v":8478},
  {"m":"Random","v":9656},{"m":"Random","v":8886},{"m":"Random","v":8366},
  {"m":"SDDP","v":9664},{"m":"SDDP","v":8795},{"m":"SDDP","v":8037},
  {"m":"TS-DDR|(ContRelax)","v":9634},{"m":"TS-DDR|(ContRelax)","v":8890},{"m":"TS-DDR|(ContRelax)","v":8228},
  {"m":"TS-DDR|(FixedDisc)","v":9533},{"m":"TS-DDR|(FixedDisc)","v":8826},{"m":"TS-DDR|(FixedDisc)","v":7895}
 ],
 "out": [
  {"m":"Base-stock|(S*=160)","g":"s4","v":11010},{"m":"Base-stock|(S*=160)","g":"s4","v":10590},{"m":"Base-stock|(S*=160)","g":"s4","v":10338},{"m":"Base-stock|(S*=160)","g":"s2","v":6538},
  {"m":"Random","g":"s4","v":11320},{"m":"Random","g":"s3","v":11180},{"m":"Random","g":"s2","v":10660},{"m":"Random","g":"s2","v":10595},{"m":"Random","g":"s2","v":10263},
  {"m":"SDDP","g":"s4","v":10620},{"m":"SDDP","g":"s4","v":10584},{"m":"SDDP","g":"s3","v":10244},{"m":"SDDP","g":"s4","v":10017},{"m":"SDDP","g":"s4","v":9965},{"m":"SDDP","g":"s4","v":9905},{"m":"SDDP","g":"s4","v":9816},{"m":"SDDP","g":"s4","v":9270},{"m":"SDDP","g":"s5","v":8585},{"m":"SDDP","g":"s5","v":8450},{"m":"SDDP","g":"s3","v":6556},{"m":"SDDP","g":"s2","v":6370},
  {"m":"TS-DDR|(ContRelax)","g":"s3","v":11048},{"m":"TS-DDR|(ContRelax)","g":"s4","v":10914},{"m":"TS-DDR|(ContRelax)","g":"s3","v":10765},{"m":"TS-DDR|(ContRelax)","g":"s3","v":10609},{"m":"TS-DDR|(ContRelax)","g":"s3","v":10449},{"m":"TS-DDR|(ContRelax)","g":"s2","v":10263},{"m":"TS-DDR|(ContRelax)","g":"s5","v":8890},{"m":"TS-DDR|(ContRelax)","g":"s5","v":8737},{"m":"TS-DDR|(ContRelax)","g":"s2","v":6306},{"m":"TS-DDR|(ContRelax)","g":"s1","v":6128},{"m":"TS-DDR|(ContRelax)","g":"s1","v":6054},{"m":"TS-DDR|(ContRelax)","g":"s1","v":5801},
  {"m":"TS-DDR|(FixedDisc)","g":"s4","v":11268},{"m":"TS-DDR|(FixedDisc)","g":"s4","v":10866}
 ]
},
"columns": 2,
"spacing": {"row": 114, "column": 122.5},
"bounds": "flush",
"resolve": {"scale": {"color": "independent", "strokeDash": "independent", "strokeWidth": "independent"}, "legend": {"color": "independent", "strokeDash": "independent", "strokeWidth": "independent"}},
"concat": [
  {
   "title": {"text": "SDDP learning curve"},
   "width": 419, "height": 261,
   "data": {"name": "sddp"},
   "mark": {"type": "line", "strokeWidth": 2, "clip": true, "strokeJoin": "round"},
   "encoding": {
    "x": {"field": "i", "type": "quantitative", "scale": {"domain": [-14.4, 515.3], "nice": false, "zero": false}, "axis": {"title": "Iteration", "values": [0, 100, 200, 300, 400, 500]}},
    "y": {"field": "c", "type": "quantitative", "scale": {"domain": [-3900, 148600], "nice": false, "zero": false}, "axis": {"title": "Cost", "titlePadding": 22, "values": [0, 30000, 60000, 90000, 120000], "labelExpr": "datum.value == 0 ? '0' : datum.value == 30000 ? '3.00×10⁴' : datum.value == 60000 ? '6.00×10⁴' : datum.value == 90000 ? '9.00×10⁴' : '1.20×10⁵'"}},
    "color": {"field": "s", "type": "nominal", "scale": {"domain": ["LP bound", "Simulation"], "range": ["#006400", "#FF8C00"]}, "legend": {"title": null, "orient": "none", "legendX": 301.5, "legendY": 114}}
   }
  },
  {
   "title": {"text": "TS-DDR training curve"},
   "width": 419, "height": 261,
   "data": {"name": "ts"},
   "mark": {"type": "line", "color": "#4682B4", "strokeWidth": 1.8, "clip": true},
   "encoding": {
    "x": {"field": "b", "type": "quantitative", "scale": {"domain": [-22.8, 824.9], "nice": false, "zero": false}, "axis": {"title": "Batch", "values": [0, 200, 400, 600, 800]}},
    "y": {"field": "c", "type": "quantitative", "scale": {"domain": [7146, 10293], "nice": false, "zero": false}, "axis": {"title": "Mean operational cost", "values": [7500, 8000, 8500, 9000, 9500, 10000], "format": "d"}}
   }
  },
  {
   "title": {"text": "Inventory trajectories"},
   "width": 419, "height": 271,
   "layer": [
    {
     "data": {"name": "inv"},
     "mark": {"type": "line", "clip": true},
     "encoding": {
      "x": {"field": "p", "type": "quantitative", "scale": {"domain": [-0.37, 12.37], "nice": false, "zero": false}, "axis": {"title": "Period", "values": [0, 2.5, 5, 7.5, 10], "format": ".1f"}},
      "y": {"field": "v", "type": "quantitative", "scale": {"domain": [-42.7, 161.8], "nice": false, "zero": false}, "axis": {"title": "Net inventory", "values": [0, 50, 100, 150]}},
      "detail": {"field": "id"},
      "color": {"field": "s", "type": "nominal", "scale": {"domain": ["TS-DDR", "Base-stock", "Zero"], "range": ["rgba(70,130,180,0.4)", "rgba(255,140,0,0.4)", "rgba(50,50,50,0.75)"]}, "legend": {"title": null, "orient": "none", "legendX": 299.5, "legendY": 9}},
      "strokeDash": {"field": "s", "type": "nominal", "scale": {"domain": ["TS-DDR", "Base-stock", "Zero"], "range": [[1, 0], [1, 0], [12, 7]]}, "legend": {"title": null, "orient": "none", "legendX": 299.5, "legendY": 9}},
      "strokeWidth": {"field": "s", "type": "nominal", "scale": {"domain": ["TS-DDR", "Base-stock", "Zero"], "range": [1, 1, 2]}, "legend": {"title": null, "orient": "none", "legendX": 299.5, "legendY": 9}}
     }
    },
    {
     "data": {"name": "zero"},
     "mark": {"type": "rule"},
     "encoding": {
      "y": {"field": "v", "type": "quantitative"},
      "color": {"field": "s", "type": "nominal"},
      "strokeDash": {"field": "s", "type": "nominal"},
      "strokeWidth": {"field": "s", "type": "nominal"}
     }
    }
   ]
  },
  {
   "title": {"text": "Cost comparison"},
   "width": 419, "height": 262,
   "encoding": {
    "x": {"field": "m", "type": "nominal", "scale": {"domain": ["Base-stock|(S*=160)", "Random", "SDDP", "TS-DDR|(ContRelax)", "TS-DDR|(FixedDisc)"], "paddingInner": 0, "paddingOuter": 0.05}, "axis": {"title": "Method", "labelExpr": "split(datum.label, '|')", "labelAngle": 0, "grid": true}}
   },
   "layer": [
    {"data": {"name": "whisk"}, "mark": {"type": "rule", "color": "#000", "strokeWidth": 1.2},
     "encoding": {"y": {"field": "lo", "type": "quantitative", "scale": {"domain": [5628, 11469], "nice": false, "zero": false}, "axis": {"title": "Operational cost", "values": [6000, 7000, 8000, 9000, 10000, 11000], "format": "d"}}, "y2": {"field": "hi"}}},
    {"data": {"name": "box"}, "mark": {"type": "bar", "width": {"band": 0.8}, "stroke": "#111", "strokeWidth": 1.2},
     "encoding": {"y": {"field": "lo", "type": "quantitative"}, "y2": {"field": "hi"}, "color": {"field": "k", "type": "nominal", "scale": {"domain": ["gray", "steelblue", "royalblue", "green", "gold"], "range": ["#808080", "#4682B4", "#4169E1", "#006400", "#FFD700"]}, "legend": null}}},
    {"data": {"name": "seg"}, "mark": {"type": "rule", "color": "#000", "strokeWidth": 1.2},
     "encoding": {"y": {"field": "lo", "type": "quantitative"}, "y2": {"field": "hi"}}},
    {"data": {"name": "cap"}, "mark": {"type": "tick", "color": "#000", "size": 34, "thickness": 1.2},
     "encoding": {"y": {"field": "v", "type": "quantitative"}}},
    {"data": {"name": "med"}, "mark": {"type": "tick", "color": "#000", "size": 66, "thickness": 1.2},
     "encoding": {"y": {"field": "v", "type": "quantitative"}}},
    {"data": {"name": "out"}, "mark": {"type": "point", "filled": true, "size": 60, "stroke": "#000", "strokeWidth": 1, "opacity": 1},
     "encoding": {"y": {"field": "v", "type": "quantitative"}, "color": {"field": "g", "type": "nominal", "scale": {"domain": ["s1", "s2", "s3", "s4", "s5"], "range": ["#009AFA", "#E36F47", "#3EA44E", "#C371D2", "#AC8E18"]}, "legend": null}}}
   ],
   "resolve": {"scale": {"color": "independent"}}
  }
]
}
